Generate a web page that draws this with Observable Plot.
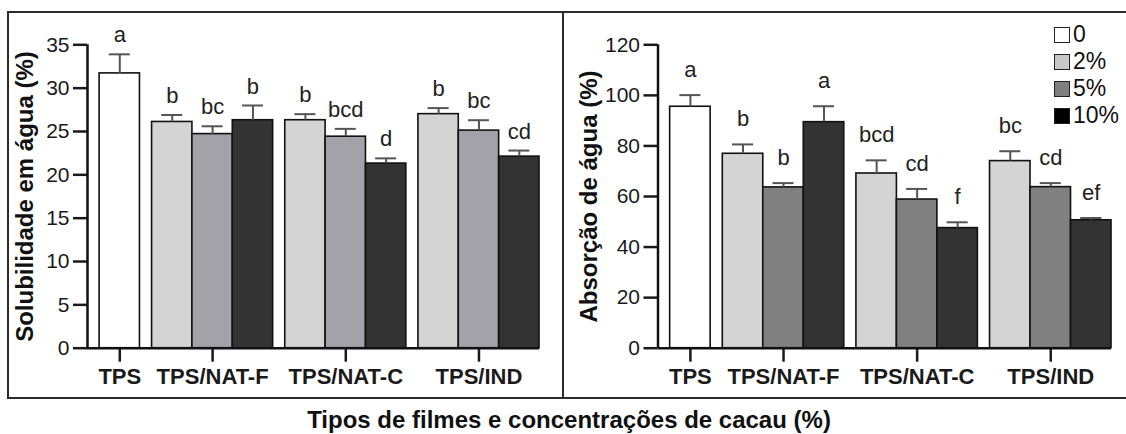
<!DOCTYPE html>
<html>
<head>
<meta charset="utf-8">
<script src="https://cdn.jsdelivr.net/npm/d3@7"></script>
<script src="https://cdn.jsdelivr.net/npm/@observablehq/plot@0.6"></script>
<style>
  body { margin: 0; background: #fff; font-family: "Liberation Sans", Arial, sans-serif; }
  #page { position: relative; width: 1126px; height: 434px; overflow: hidden; background: #fff; }
  .panel { position: absolute; top: 0; }
  .panel svg { background: transparent !important; }
  .frame { position: absolute; left: 7px; top: 11px; width: 1140px; height: 388px; border: 2px solid #2b2b2b; box-sizing: border-box; pointer-events: none; }
  .divider { position: absolute; left: 562px; top: 11px; width: 2px; height: 388px; background: #2b2b2b; }
  .title { position: absolute; left: 0; width: 1138px; top: 408px; text-align: center; font-size: 24px; line-height: 24px; font-weight: bold; color: #111; }
  .legend { position: absolute; left: 1054px; top: 21px; }
  .legend .row { display: flex; align-items: center; height: 27px; font-size: 23px; color: #111; }
  .legend .sw { width: 16px; height: 16px; box-sizing: border-box; border: 1.5px solid #222; margin-right: 3px; }
</style>
</head>
<body>
<div id="page">
  <div class="panel" id="left" style="left:0"></div>
  <div class="panel" id="right" style="left:563px"></div>
  <div class="frame"></div>
  <div class="divider"></div>
  <div class="legend" id="legend"></div>
  <div class="title">Tipos de filmes e concentrações de cacau (%)</div>
</div>
<script>
// Film types and cocoa concentrations
const groups = ["TPS", "TPS/NAT-F", "TPS/NAT-C", "TPS/IND"];
const concentrations = ["0", "2%", "5%", "10%"];

// One entry per bar
const barGroup = ["TPS", "TPS/NAT-F", "TPS/NAT-F", "TPS/NAT-F", "TPS/NAT-C", "TPS/NAT-C", "TPS/NAT-C", "TPS/IND", "TPS/IND", "TPS/IND"];
const barConc = ["0", "2%", "5%", "10%", "2%", "5%", "10%", "2%", "5%", "10%"];

// Water solubility (%)
const solubility = [31.7, 26.1, 24.7, 26.3, 26.3, 24.4, 21.3, 27.0, 25.1, 22.1];
const solubilityErr = [2.2, 0.8, 0.9, 1.7, 0.7, 0.9, 0.6, 0.7, 1.2, 0.7];
const solubilityLetters = ["a", "b", "bc", "b", "b", "bcd", "d", "b", "bc", "cd"];
const solubilityTicks = [0, 5, 10, 15, 20, 25, 30, 35];

// Water absorption (%)
const absorption = [95.5, 76.9, 63.6, 89.4, 69.1, 58.8, 47.5, 74.0, 63.7, 50.6];
const absorptionErr = [4.6, 3.7, 1.7, 6.3, 5.2, 4.2, 2.3, 3.9, 1.6, 0.9];
const absorptionLetters = ["a", "b", "b", "a", "bcd", "cd", "f", "bc", "cd", "ef"];
const absorptionTicks = [0, 20, 40, 60, 80, 100, 120];

const solubilityColors = ["#ffffff", "#d4d4d4", "#a3a2a8", "#333333"];
const absorptionColors = ["#ffffff", "#d4d4d4", "#808080", "#333333"];
const legendColors = ["#ffffff", "#c8c8c8", "#7f7f7f", "#000000"];

// Bars sit side by side inside a group; groups are separated by a small gap.
const groupGap = 0.3;
const slots = [];
const groupCenter = new Map();
{
  let pos = 0;
  for (const g of groups) {
    const idx = barGroup.map((d, i) => d === g ? i : -1).filter(i => i >= 0);
    idx.forEach((i, j) => { slots[i] = {x1: pos + j, x2: pos + j + 1}; });
    groupCenter.set(pos + idx.length / 2, g);
    pos += idx.length + groupGap;
  }
  var xDomain = [-groupGap, pos - groupGap];
}
const centerTicks = Array.from(groupCenter.keys());

function panel({values, errors, letters, ticks, colors, yLabel, marginLeft, marginRight, labelDx, letterDy}) {
  const bars = values.map((v, i) => ({
    group: barGroup[i], conc: barConc[i], value: v, err: errors[i], letter: letters[i],
    x1: slots[i].x1, x2: slots[i].x2, xc: (slots[i].x1 + slots[i].x2) / 2
  }));
  const yMax = ticks[ticks.length - 1];
  const capHalf = 0.26;
  return Plot.plot({
    width: 563,
    height: 400,
    marginLeft,
    marginRight,
    marginTop: 44.3,
    marginBottom: 52.3,
    style: {fontFamily: "'Liberation Sans', Arial, sans-serif", color: "#1a1a1a", background: "transparent"},
    x: {type: "linear", domain: xDomain},
    y: {domain: [0, yMax]},
    color: {type: "ordinal", domain: concentrations, range: colors},
    marks: [
      Plot.rectY(bars, {x1: "x1", x2: "x2", y: "value", fill: "conc", stroke: "#111", strokeWidth: 1.6}),
      Plot.ruleX(bars, {x: "xc", y1: "value", y2: d => d.value + d.err, stroke: "#555", strokeWidth: 2}),
      Plot.ruleY(bars, {y: d => d.value + d.err, x1: d => d.xc - capHalf, x2: d => d.xc + capHalf, stroke: "#555", strokeWidth: 2}),
      Plot.text(bars, {x: "xc", y: d => d.value + d.err, text: "letter", dy: letterDy, fontSize: 22, fill: "#222"}),
      Plot.axisY({ticks, tickSize: 14, tickPadding: 4, fontSize: 21, strokeWidth: 2.5, label: null}),
      Plot.axisX({ticks: centerTicks, tickFormat: d => groupCenter.get(d), tickSize: 14, tickPadding: 6, fontSize: 22, fontWeight: "bold", strokeWidth: 2.5, label: null}),
      Plot.ruleX([xDomain[0]], {y1: 0, y2: yMax, stroke: "#111", strokeWidth: 2.5}),
      Plot.ruleY([0], {x1: xDomain[0], x2: xDomain[1], stroke: "#111", strokeWidth: 2.5}),
      Plot.text([yLabel], {frameAnchor: "left", textAnchor: "middle", rotate: -90, dx: labelDx, fontSize: 24, fontWeight: "bold", fill: "#111"})
    ]
  });
}

document.getElementById("left").append(panel({
  values: solubility, errors: solubilityErr, letters: solubilityLetters, ticks: solubilityTicks,
  colors: solubilityColors, yLabel: "Solubilidade em água (%)",
  marginLeft: 87, marginRight: 24, labelDx: -62, letterDy: -19
}));

document.getElementById("right").append(panel({
  values: absorption, errors: absorptionErr, letters: absorptionLetters, ticks: absorptionTicks,
  colors: absorptionColors, yLabel: "Absorção de água (%)",
  marginLeft: 94.5, marginRight: 15, labelDx: -69, letterDy: -25
}));

// Legend of cocoa concentrations
const legend = document.getElementById("legend");
concentrations.forEach((c, i) => {
  const row = document.createElement("div");
  row.className = "row";
  const sw = document.createElement("div");
  sw.className = "sw";
  sw.style.background = legendColors[i];
  const label = document.createElement("span");
  label.textContent = c;
  row.append(sw, label);
  legend.append(row);
});
</script>
</body>
</html>
